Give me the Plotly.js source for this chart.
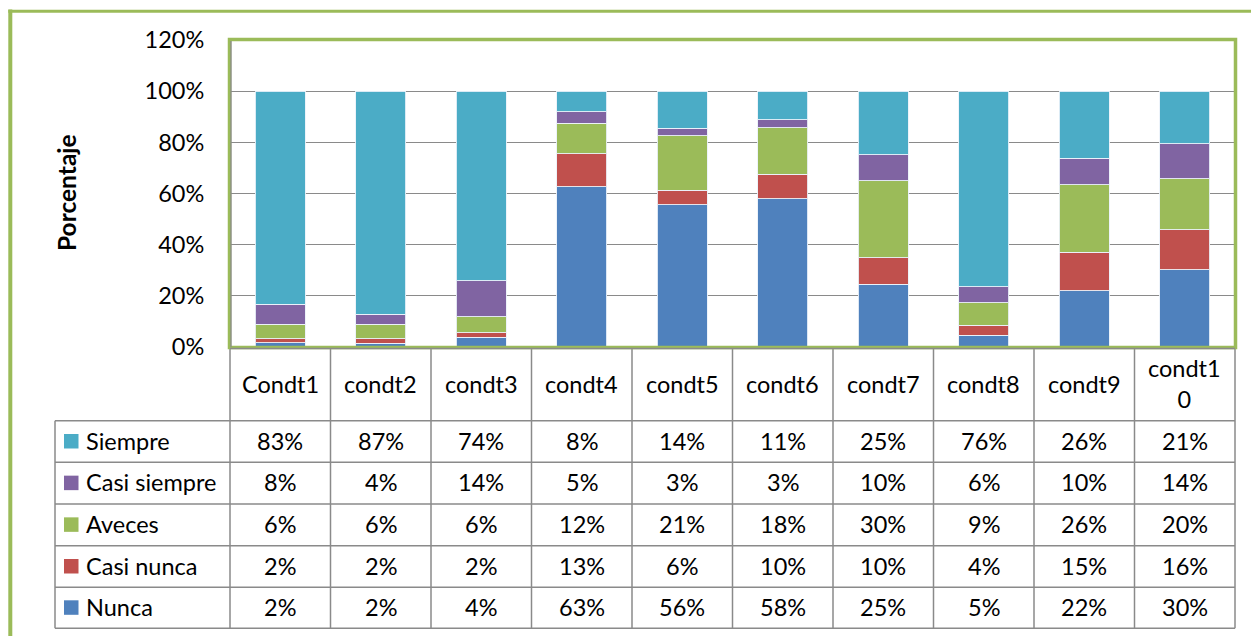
<!DOCTYPE html>
<html>
<head>
<meta charset="utf-8">
<script src="https://cdn.plot.ly/plotly-3.0.1.min.js"></script>
<style>
  html, body { margin: 0; padding: 0; background: #ffffff; }
  #chart { width: 1251px; height: 636px; }
</style>
</head>
<body>
<div id="chart"></div>
<script>
// ---- Data (fractions; table shows them rounded to whole percent) ----
const categories = ['Condt1', 'condt2', 'condt3', 'condt4', 'condt5', 'condt6', 'condt7', 'condt8', 'condt9', 'condt10'];
const nunca       = [0.016, 0.015, 0.039, 0.627, 0.556, 0.579, 0.246, 0.046, 0.219, 0.302];
const casiNunca   = [0.016, 0.017, 0.016, 0.128, 0.056, 0.096, 0.102, 0.040, 0.152, 0.157];
const aveces      = [0.056, 0.057, 0.063, 0.119, 0.214, 0.182, 0.302, 0.087, 0.263, 0.199];
const casiSiempre = [0.079, 0.039, 0.141, 0.046, 0.030, 0.032, 0.102, 0.063, 0.103, 0.137];
const siempre     = [0.833, 0.872, 0.741, 0.080, 0.144, 0.111, 0.248, 0.764, 0.263, 0.205];
const yTickVals   = [0, 0.2, 0.4, 0.6, 0.8, 1.0, 1.2];
const yTickText   = ['0%', '20%', '40%', '60%', '80%', '100%', '120%'];
const yTitle      = 'Porcentaje';

// series in table order (top to bottom)
const tableSeries = [
  { name: 'Siempre',      values: siempre,     color: '#4BACC6' },
  { name: 'Casi siempre', values: casiSiempre, color: '#8064A2' },
  { name: 'Aveces',       values: aveces,      color: '#9BBB59' },
  { name: 'Casi nunca',   values: casiNunca,   color: '#C0504D' },
  { name: 'Nunca',        values: nunca,       color: '#4F81BD' }
];
// stacking order (bottom to top)
const stackSeries = tableSeries.slice().reverse();

// ---- Geometry ----
const FW = 1251, FH = 636;
const L = 230, R = 16, T = 40, B = 289;
const W = FW - L - R, H = FH - T - B;
const px = v => (v - L) / W;          // pixel x -> paper
const py = v => (T + H - v) / H;      // pixel y -> paper

const FONT = 'Lato, "Open Sans", sans-serif';
const FS = 23.5;
const GRID = '#8a8a8a';
const GREEN = '#9BBB59';

const traces = stackSeries.map(s => ({
  type: 'bar',
  name: s.name,
  x: categories,
  y: s.values,
  marker: { color: s.color, line: { color: 'rgba(235,242,250,0.9)', width: 1 } },
  hoverinfo: 'skip',
  showlegend: false
}));

const shapes = [];
const annotations = [];

// table geometry
const colW = W / categories.length;
const plotBottom = T + H;
const rowLines = [420.7, 462.3, 504, 545.7, 587.3, 628.3];
const tableLeft = 55;
const tableRight = L + W;

// horizontal table lines
rowLines.forEach(yv => {
  shapes.push({ type: 'line', xref: 'paper', yref: 'paper',
    x0: px(tableLeft), x1: px(tableRight), y0: py(yv), y1: py(yv),
    line: { color: GRID, width: 1.5 } });
});
// vertical lines at column boundaries
for (let k = 0; k <= categories.length; k++) {
  const xv = L + k * colW;
  shapes.push({ type: 'line', xref: 'paper', yref: 'paper',
    x0: px(xv), x1: px(xv), y0: py(plotBottom), y1: py(rowLines[rowLines.length - 1]),
    line: { color: GRID, width: 1.5 } });
}
// left edge of legend column
shapes.push({ type: 'line', xref: 'paper', yref: 'paper',
  x0: px(tableLeft), x1: px(tableLeft), y0: py(rowLines[0]), y1: py(rowLines[rowLines.length - 1]),
  line: { color: GRID, width: 1.5 } });

// header labels
categories.forEach((c, i) => {
  const label = c.length > 6 ? c.slice(0, 6) + '<br>' + c.slice(6) : c;
  annotations.push({ xref: 'x', yref: 'paper', x: i, y: py((plotBottom + rowLines[0]) / 2),
    text: label, showarrow: false, xanchor: 'center', yanchor: 'middle',
    font: { family: FONT, size: FS, color: '#000' } });
});

// rows
tableSeries.forEach((s, r) => {
  const yc = (rowLines[r] + rowLines[r + 1]) / 2;
  // legend key
  shapes.push({ type: 'rect', xref: 'paper', yref: 'paper',
    x0: px(64), x1: px(78.5), y0: py(yc - 7.5), y1: py(yc + 7),
    fillcolor: s.color, line: { width: 0 } });
  annotations.push({ xref: 'paper', yref: 'paper', x: px(84), y: py(yc - 1),
    text: s.name, showarrow: false, xanchor: 'left', yanchor: 'middle',
    font: { family: FONT, size: FS, color: '#000' } });
  s.values.forEach((v, i) => {
    annotations.push({ xref: 'x', yref: 'paper', x: i, y: py(yc - 1),
      text: Math.round(v * 100) + '%', showarrow: false, xanchor: 'center', yanchor: 'middle',
      font: { family: FONT, size: FS, color: '#000' } });
  });
});

// y axis title
annotations.push({ xref: 'paper', yref: 'paper', x: px(66), y: py(193),
  text: '<b>' + yTitle + '</b>', showarrow: false, textangle: -90,
  xanchor: 'center', yanchor: 'middle',
  font: { family: FONT, size: 24.5, color: '#000' } });

// plot area green border
shapes.push({ type: 'rect', xref: 'paper', yref: 'paper',
  x0: px(L - 0.5), x1: px(L + W + 0.5), y0: py(plotBottom + 0.5), y1: py(T - 0.5),
  line: { color: GREEN, width: 3.5 }, layer: 'above' });
// gray axis lines
shapes.push({ type: 'line', xref: 'paper', yref: 'paper',
  x0: px(L + 1), x1: px(L + 1), y0: py(plotBottom), y1: py(T + 1),
  line: { color: GRID, width: 1.3 }, layer: 'above' });
shapes.push({ type: 'line', xref: 'paper', yref: 'paper',
  x0: px(L), x1: px(L + W), y0: py(plotBottom + 1.5), y1: py(plotBottom + 1.5),
  line: { color: GRID, width: 1.3 }, layer: 'above' });

// outer chart frame (green)
shapes.push({ type: 'line', xref: 'paper', yref: 'paper',
  x0: px(10.3), x1: px(10.3), y0: py(9.5), y1: py(FH + 5),
  line: { color: GREEN, width: 4 } });
shapes.push({ type: 'line', xref: 'paper', yref: 'paper',
  x0: px(8.3), x1: px(FW + 5), y0: py(11.3), y1: py(11.3),
  line: { color: GREEN, width: 3 } });

const layout = {
  width: FW, height: FH,
  margin: { l: L, r: R, t: T, b: B, pad: 0 },
  paper_bgcolor: '#ffffff', plot_bgcolor: '#ffffff',
  barmode: 'stack',
  bargap: 0.5,
  showlegend: false,
  font: { family: FONT, size: FS, color: '#000' },
  xaxis: {
    type: 'category', range: [-0.5, categories.length - 0.5], fixedrange: true,
    showticklabels: false, showgrid: false, zeroline: false, showline: false, ticks: ''
  },
  yaxis: {
    range: [0, 1.2], fixedrange: true,
    tickvals: yTickVals, ticktext: yTickText,
    showgrid: true, gridcolor: GRID, gridwidth: 1.3,
    zeroline: false, showline: false,
    ticks: 'outside', ticklen: 20, tickcolor: 'rgba(0,0,0,0)',
    tickfont: { family: FONT, size: FS, color: '#000' }
  },
  shapes: shapes,
  annotations: annotations
};

Plotly.newPlot('chart', traces, layout, { staticPlot: true, displayModeBar: false });
</script>
</body>
</html>
